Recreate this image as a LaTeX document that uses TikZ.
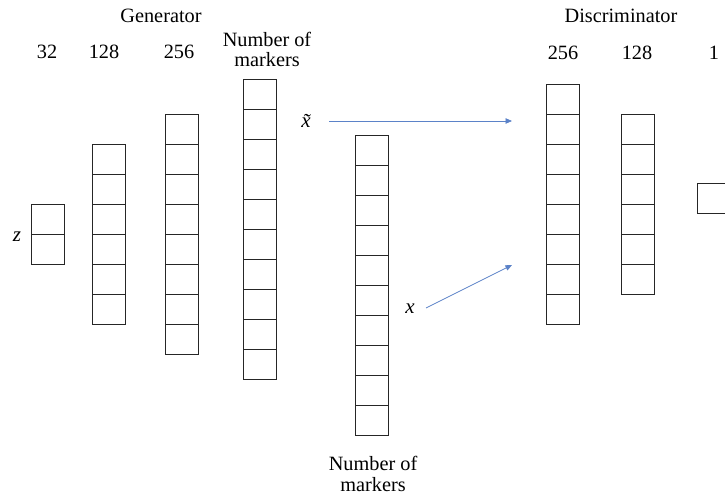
\documentclass[tikz,border=0pt]{standalone}
\usepackage{fontspec}
\setmainfont{Liberation Serif}
\usetikzlibrary{arrows.meta}
\begin{document}
\begin{tikzpicture}[x=1pt,y=-1pt,
  cell/.style={draw=black!85,line width=0.9pt,minimum width=33pt,minimum height=30pt,inner sep=0pt,outer sep=0pt},
  lbl/.style={font=\fontsize{20.3}{20}\selectfont,inner sep=0pt,anchor=base},
  mlbl/.style={font=\fontsize{21}{22}\selectfont\itshape,inner sep=0pt},
  link/.style={draw={rgb,255:red,91;green,130;blue,200},line width=0.8pt,-{Triangle[length=6.5pt,width=5.5pt]}}]
\useasboundingbox (0,0) rectangle (725,494);
\clip (0,0) rectangle (725,494);
% columns: name / left x / top y / number of cells
\foreach \nm/\lx/\ty/\n in {za/31/204/2, gb/92/144/6, gc/165/114/8, gd/243/79/10, re/355/135/10, da/546/84/8, db/621/114/6, dc/697/183/1}{
  \foreach \i in {1,...,\n}{
    \node[cell] (\nm-\i) at ({\lx+16.5},{\ty+15+30*(\i-1)}) {};
  }
}
% titles
\node[lbl] (gen) at (161,23) {Generator};
\node[lbl] (dis) at (621,23) {Discriminator};
\node[lbl] (l32) at (47,59) {32};
\node[lbl] (l128) at (104,59) {128};
\node[lbl] (l256) at (179,59) {256};
\node[lbl] (lnma) at (267,47) {Number of};
\node[lbl] (lnmb) at (267,67) {markers};
\node[lbl] (dl256) at (563,60) {256};
\node[lbl] (dl128) at (637,60) {128};
\node[lbl] (dl1) at (714,60) {1};
\node[lbl] (lnmc) at (373,470) {Number of};
\node[lbl] (lnmd) at (373,491) {markers};
% math labels
\node[mlbl] (z) at (17,237) {z};
\node[mlbl] (xt) at (306,121) {\~{x}};
\node[mlbl] (xr) at (410,309) {x};
\coordinate (ea) at (512,121);
\coordinate (eb) at (512,265);
\coordinate (sa) at (329,121);
\coordinate (sb) at (426,308);
\draw[link] (sa) -- (ea);
\draw[link] (sb) -- (eb);
\end{tikzpicture}
\end{document}
